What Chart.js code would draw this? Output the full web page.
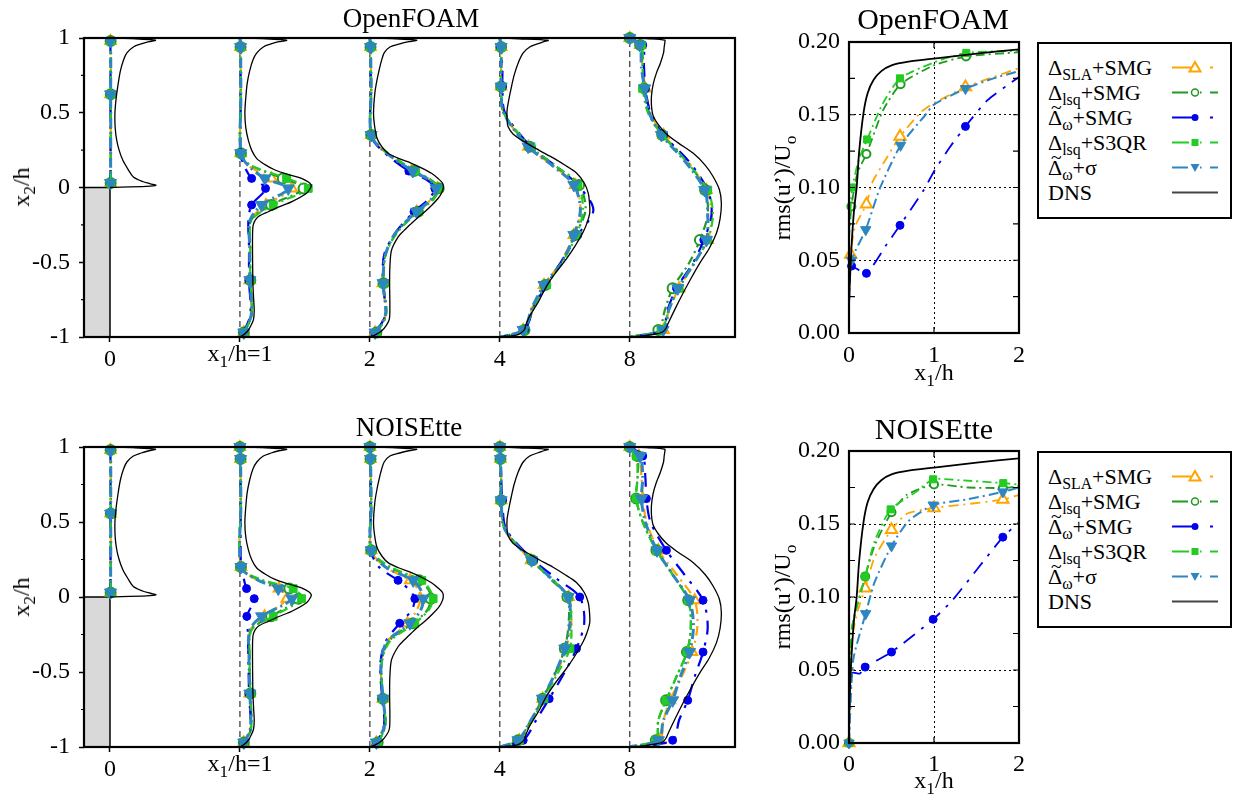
<!DOCTYPE html>
<html>
<head>
<meta charset="utf-8">
<script src="https://cdn.jsdelivr.net/npm/chart.js@4.4.1/dist/chart.umd.min.js"></script>
<style>
  body { margin: 0; background: #fff; width: 1239px; height: 803px; position: relative; overflow: hidden;
         font-family: 'Liberation Serif', 'Times New Roman', serif; color: #000; }
  canvas { position: absolute; }
  .t { position: absolute; transform: translate(-50%, -50%); white-space: nowrap; line-height: 1; font-size: 24px; }
  .rot { transform: translate(-50%, -50%) rotate(-90deg); }
  sub { font-size: 0.72em; vertical-align: -0.32em; line-height: 0; }
  .legend { position: absolute; left: 1037px; width: 195px; height: 177px; border: 2px solid #000;
            box-sizing: border-box; background: #fff; }
  .row { position: absolute; left: 9px; height: 25px; line-height: 25px; font-size: 22px; white-space: nowrap; }
  .sample { position: absolute; left: 133px; width: 46px; height: 25px; }
  .tl { position: relative; display: inline-block; }
  .tl b { position: absolute; left: 0.15em; top: -0.5em; font-weight: normal; font-size: 0.9em; }
</style>
</head>
<body>
<canvas id="foamProf" width="760" height="400" style="left:0;top:0"></canvas>
<canvas id="foamRms" width="479" height="400" style="left:760px;top:0"></canvas>
<canvas id="noiseProf" width="760" height="403" style="left:0;top:400px"></canvas>
<canvas id="noiseRms" width="479" height="403" style="left:760px;top:400px"></canvas>

<div class="t" style="left:411px;top:18px;font-size:27px">OpenFOAM</div>
<div class="t" style="left:409px;top:427px;font-size:27px">NOISEtte</div>
<div class="t" style="left:933px;top:19px;font-size:30px">OpenFOAM</div>
<div class="t" style="left:934px;top:429px;font-size:30px">NOISEtte</div>
<div class="t rot" style="left:21px;top:187px">x<sub>2</sub>/h</div>
<div class="t rot" style="left:21px;top:597px">x<sub>2</sub>/h</div>
<div class="t rot" style="left:782px;top:188px">rms(u’)/U<sub>o</sub></div>
<div class="t rot" style="left:782px;top:597px">rms(u’)/U<sub>o</sub></div>
<div class="t" style="left:240px;top:353px">x<sub>1</sub>/h=1</div>
<div class="t" style="left:240px;top:763px">x<sub>1</sub>/h=1</div>
<div class="t" style="left:934px;top:372px">x<sub>1</sub>/h</div>
<div class="t" style="left:934px;top:780px">x<sub>1</sub>/h</div>
<div class="legend" id="legTop" style="top:42px"></div>
<div class="legend" id="legBot" style="top:451px"></div>

<script>
// stations of the profile plots (x1/h = 0, 1, 2, 4, 8 drawn at equal spacing)
const stations = [0, 1, 2, 3, 4];
const stationLabels = ['0', '', '2', '4', '8'];
const profXMin = -0.2, profXMax = 4.81;
const profMinorTicks = [0.75, 0.25, -0.25, -0.75];
const stepX = [-0.2, 0, 0];
const stepY = [0, 0, -1];

// DNS profiles: x2/h levels and rms offsets, one per station
const dnsY = [
  [1, 0.995, 0.985, 0.975, 0.96, 0.94, 0.90, 0.85, 0.78, 0.70, 0.60, 0.50, 0.40, 0.32, 0.25, 0.18, 0.12, 0.07, 0.04, 0.025, 0.015, 0.007, 0],
  [1, 0.995, 0.985, 0.975, 0.96, 0.94, 0.90, 0.853, 0.78, 0.697, 0.6, 0.496, 0.40, 0.318, 0.25, 0.195, 0.155, 0.117, 0.085, 0.061, 0.035, 0.017, 0, -0.039, -0.095, -0.13, -0.162, -0.19, -0.206, -0.235, -0.262, -0.32, -0.43, -0.53, -0.64, -0.74, -0.82, -0.88, -0.92, -0.96, -0.987, -1],
  [1, 0.995, 0.985, 0.975, 0.96, 0.94, 0.90, 0.85, 0.807, 0.72, 0.63, 0.50, 0.42, 0.33, 0.27, 0.229, 0.195, 0.162, 0.13, 0.095, 0.06, 0.028, -0.006, -0.04, -0.072, -0.115, -0.162, -0.2, -0.24, -0.29, -0.33, -0.418, -0.53, -0.65, -0.80, -0.88, -0.92, -0.96, -0.987, -1],
  [1, 0.995, 0.985, 0.975, 0.96, 0.94, 0.90, 0.83, 0.75, 0.675, 0.60, 0.518, 0.45, 0.406, 0.36, 0.31, 0.25, 0.198, 0.15, 0.097, 0.03, -0.036, -0.10, -0.17, -0.24, -0.30, -0.39, -0.48, -0.57, -0.66, -0.76, -0.86, -0.92, -0.95, -0.975, -0.987, -0.995, -1],
  [1, 0.995, 0.985, 0.97, 0.94, 0.90, 0.83, 0.765, 0.69, 0.61, 0.54, 0.48, 0.42, 0.36, 0.30, 0.23, 0.15, 0.075, -0.015, -0.105, -0.21, -0.306, -0.41, -0.507, -0.61, -0.707, -0.81, -0.91, -0.94, -0.965, -0.98, -0.995, -1]
];
const dnsU = [
  [0, 0.2, 0.35, 0.30, 0.24, 0.18, 0.13, 0.103, 0.08, 0.064, 0.048, 0.038, 0.04, 0.051, 0.07, 0.10, 0.14, 0.18, 0.25, 0.31, 0.354, 0.28, 0],
  [0, 0.2, 0.359, 0.30, 0.24, 0.18, 0.13, 0.10, 0.075, 0.056, 0.045, 0.038, 0.045, 0.064, 0.09, 0.128, 0.19, 0.27, 0.38, 0.474, 0.53, 0.548, 0.545, 0.513, 0.40, 0.30, 0.218, 0.15, 0.128, 0.108, 0.10, 0.097, 0.097, 0.098, 0.10, 0.105, 0.11, 0.105, 0.087, 0.06, 0.026, 0],
  [0, 0.2, 0.36, 0.30, 0.23, 0.154, 0.11, 0.09, 0.077, 0.055, 0.038, 0.028, 0.035, 0.055, 0.095, 0.14, 0.22, 0.32, 0.40, 0.474, 0.525, 0.56, 0.564, 0.55, 0.526, 0.48, 0.423, 0.37, 0.32, 0.26, 0.218, 0.167, 0.154, 0.152, 0.154, 0.15, 0.128, 0.09, 0.038, 0],
  [0, 0.15, 0.372, 0.34, 0.29, 0.23, 0.18, 0.14, 0.11, 0.09, 0.072, 0.056, 0.056, 0.064, 0.10, 0.18, 0.30, 0.41, 0.50, 0.59, 0.65, 0.68, 0.69, 0.692, 0.67, 0.64, 0.58, 0.51, 0.43, 0.36, 0.30, 0.23, 0.20, 0.19, 0.16, 0.128, 0.06, 0],
  [0, 0.15, 0.27, 0.27, 0.265, 0.26, 0.235, 0.205, 0.18, 0.167, 0.168, 0.18, 0.22, 0.28, 0.37, 0.487, 0.58, 0.64, 0.69, 0.705, 0.695, 0.667, 0.61, 0.538, 0.47, 0.41, 0.35, 0.295, 0.28, 0.256, 0.2, 0.077, 0]
];

// OpenFOAM LES profiles: x2/h levels, marker indices, rms offsets per model
const foamLevels = [
  [1, 0.98, 0.8, 0.623, 0.4, 0.2, 0.03, 0],
  [1, 0.94, 0.6, 0.229, 0.15, 0.061, -0.006, -0.117, -0.22, -0.4, -0.62, -0.85, -0.97, -1],
  [1, 0.94, 0.65, 0.351, 0.25, 0.11, 0.05, -0.005, -0.08, -0.162, -0.3, -0.45, -0.64, -0.85, -0.97, -1],
  [1, 0.94, 0.8, 0.675, 0.5, 0.273, 0.15, 0.017, -0.15, -0.318, -0.5, -0.652, -0.8, -0.953, -1],
  [1, 0.953, 0.8, 0.663, 0.5, 0.351, 0.18, -0.017, -0.18, -0.351, -0.5, -0.674, -0.82, -0.953, -1]
];
const foamMarks = [[1, 3, 6], [1, 3, 5, 6, 7, 10, 12], [1, 3, 5, 7, 9, 12, 14], [1, 3, 5, 7, 9, 11, 13], [0, 1, 3, 5, 7, 9, 11, 13]];
const foamSLA = [
  [0, 0.004, 0.006, 0.005, 0.006, 0.005, 0.004, 0],
  [0, 0.004, 0.006, 0.006, 0.06, 0.244, 0.40, 0.20, 0.08, 0.075, 0.075, 0.085, 0.03, 0],
  [0, 0.005, 0.01, 0.01, 0.10, 0.32, 0.46, 0.52, 0.47, 0.36, 0.20, 0.12, 0.10, 0.12, 0.04, 0],
  [0, 0.01, 0.01, 0.01, 0.03, 0.22, 0.40, 0.58, 0.62, 0.57, 0.47, 0.34, 0.25, 0.18, 0],
  [0, 0.08, 0.10, 0.12, 0.16, 0.26, 0.44, 0.59, 0.63, 0.60, 0.50, 0.38, 0.30, 0.26, 0]
];
const foamLsq = [
  [0, 0.005, 0.007, 0.006, 0.007, 0.006, 0.005, 0],
  [0, 0.005, 0.007, 0.008, 0.08, 0.33, 0.49, 0.24, 0.085, 0.078, 0.08, 0.09, 0.03, 0],
  [0, 0.005, 0.01, 0.01, 0.11, 0.34, 0.47, 0.53, 0.48, 0.37, 0.21, 0.12, 0.105, 0.125, 0.05, 0],
  [0, 0.01, 0.01, 0.01, 0.03, 0.23, 0.42, 0.61, 0.66, 0.58, 0.47, 0.35, 0.26, 0.19, 0],
  [0, 0.08, 0.10, 0.11, 0.15, 0.25, 0.44, 0.58, 0.60, 0.54, 0.46, 0.33, 0.27, 0.22, 0]
];
const foamOmg = [
  [0, 0.003, 0.004, 0.004, 0.004, 0.004, 0.003, 0],
  [0, 0.004, 0.006, 0.006, 0.03, 0.09, 0.197, 0.09, 0.065, 0.07, 0.07, 0.08, 0.025, 0],
  [0, 0.004, 0.008, 0.008, 0.09, 0.30, 0.44, 0.50, 0.45, 0.34, 0.20, 0.11, 0.10, 0.12, 0.04, 0],
  [0, 0.005, 0.02, 0.02, 0.04, 0.24, 0.42, 0.60, 0.72, 0.60, 0.47, 0.36, 0.26, 0.19, 0],
  [0, 0.10, 0.11, 0.12, 0.16, 0.26, 0.45, 0.60, 0.63, 0.57, 0.49, 0.36, 0.29, 0.25, 0]
];
const foamS3qr = [
  [0, 0.005, 0.007, 0.006, 0.007, 0.006, 0.005, 0],
  [0, 0.005, 0.007, 0.008, 0.08, 0.359, 0.526, 0.256, 0.09, 0.08, 0.08, 0.09, 0.03, 0],
  [0, 0.005, 0.01, 0.01, 0.11, 0.35, 0.47, 0.53, 0.49, 0.37, 0.21, 0.12, 0.10, 0.125, 0.05, 0],
  [0, 0.01, 0.01, 0.01, 0.03, 0.24, 0.42, 0.60, 0.64, 0.59, 0.48, 0.36, 0.26, 0.18, 0],
  [0, 0.09, 0.10, 0.10, 0.14, 0.25, 0.43, 0.60, 0.64, 0.60, 0.50, 0.38, 0.30, 0.24, 0]
];
const foamSig = [
  [0, 0.004, 0.006, 0.005, 0.006, 0.005, 0.004, 0],
  [0, 0.005, 0.007, 0.006, 0.06, 0.192, 0.372, 0.167, 0.077, 0.075, 0.077, 0.087, 0.03, 0],
  [0, 0.005, 0.01, 0.01, 0.10, 0.33, 0.46, 0.51, 0.47, 0.36, 0.20, 0.12, 0.102, 0.12, 0.04, 0],
  [0, 0.01, 0.01, 0.01, 0.03, 0.218, 0.40, 0.57, 0.62, 0.57, 0.48, 0.34, 0.25, 0.18, 0],
  [0, 0.077, 0.09, 0.115, 0.15, 0.244, 0.42, 0.577, 0.60, 0.59, 0.50, 0.37, 0.30, 0.256, 0]
];

// NOISEtte LES profiles
const noiseLevels = [
  [1, 0.98, 0.8, 0.556, 0.35, 0.2, 0.03, 0],
  [1, 0.92, 0.6, 0.2, 0.12, 0.056, -0.011, -0.129, -0.22, -0.4, -0.644, -0.88, -0.97, -1],
  [1, 0.92, 0.6, 0.311, 0.2, 0.111, 0.05, -0.011, -0.09, -0.175, -0.3, -0.45, -0.678, -0.85, -0.97, -1],
  [1, 0.92, 0.8, 0.645, 0.45, 0.245, 0.12, 0.0, -0.17, -0.344, -0.5, -0.678, -0.82, -0.955, -1],
  [1, 0.94, 0.8, 0.656, 0.5, 0.311, 0.15, -0.022, -0.2, -0.367, -0.53, -0.689, -0.82, -0.955, -1]
];
const noiseMarks = [[1, 3, 6], [0, 1, 3, 5, 6, 7, 10, 12], [0, 1, 3, 5, 7, 9, 12, 14], [0, 1, 3, 5, 7, 9, 11, 13], [0, 1, 3, 5, 7, 9, 11, 13]];
const noiseSLA = [
  [0, 0.004, 0.006, 0.005, 0.006, 0.005, 0.004, 0],
  [0, 0.004, 0.006, 0.008, 0.12, 0.30, 0.36, 0.19, 0.08, 0.07, 0.075, 0.08, 0.03, 0],
  [0, 0.005, 0.01, 0.01, 0.12, 0.31, 0.37, 0.39, 0.36, 0.29, 0.13, 0.085, 0.10, 0.11, 0.05, 0],
  [0, 0.005, 0.01, 0.01, 0.04, 0.24, 0.40, 0.53, 0.55, 0.51, 0.44, 0.33, 0.25, 0.15, 0],
  [0, 0.07, 0.09, 0.10, 0.13, 0.22, 0.36, 0.50, 0.52, 0.48, 0.40, 0.31, 0.26, 0.23, 0]
];
const noiseLsq = [
  [0, 0.005, 0.007, 0.006, 0.007, 0.006, 0.005, 0],
  [0, 0.005, 0.007, 0.008, 0.14, 0.38, 0.45, 0.24, 0.085, 0.075, 0.08, 0.085, 0.03, 0],
  [0, 0.005, 0.01, 0.01, 0.15, 0.38, 0.45, 0.47, 0.44, 0.33, 0.14, 0.09, 0.10, 0.12, 0.06, 0],
  [0, 0.005, 0.01, 0.01, 0.04, 0.25, 0.39, 0.52, 0.53, 0.50, 0.43, 0.33, 0.24, 0.14, 0],
  [0, 0.06, 0.06, 0.05, 0.10, 0.205, 0.33, 0.45, 0.47, 0.44, 0.36, 0.28, 0.22, 0.2, 0]
];
const noiseOmg = [
  [0, 0.003, 0.004, 0.004, 0.004, 0.004, 0.003, 0],
  [0, 0.004, 0.006, 0.008, 0.03, 0.051, 0.11, 0.053, 0.06, 0.065, 0.07, 0.08, 0.025, 0],
  [0, 0.004, 0.008, 0.008, 0.07, 0.217, 0.30, 0.346, 0.32, 0.23, 0.12, 0.08, 0.095, 0.11, 0.05, 0],
  [0, 0.005, 0.01, 0.02, 0.05, 0.26, 0.44, 0.615, 0.65, 0.59, 0.50, 0.38, 0.28, 0.18, 0],
  [0, 0.10, 0.12, 0.128, 0.16, 0.282, 0.42, 0.564, 0.60, 0.564, 0.50, 0.446, 0.38, 0.33, 0]
];
const noiseS3qr = [
  [0, 0.005, 0.007, 0.006, 0.007, 0.006, 0.005, 0],
  [0, 0.005, 0.007, 0.008, 0.15, 0.41, 0.474, 0.256, 0.09, 0.075, 0.08, 0.085, 0.03, 0],
  [0, 0.005, 0.01, 0.01, 0.16, 0.40, 0.46, 0.487, 0.45, 0.346, 0.15, 0.09, 0.10, 0.12, 0.06, 0],
  [0, 0.005, 0.01, 0.01, 0.04, 0.25, 0.40, 0.53, 0.55, 0.54, 0.45, 0.34, 0.25, 0.15, 0],
  [0, 0.05, 0.06, 0.05, 0.10, 0.205, 0.33, 0.45, 0.47, 0.44, 0.36, 0.28, 0.22, 0.2, 0]
];
const noiseSig = [
  [0, 0.004, 0.006, 0.005, 0.006, 0.005, 0.004, 0],
  [0, 0.005, 0.007, 0.008, 0.12, 0.295, 0.40, 0.167, 0.075, 0.07, 0.077, 0.08, 0.03, 0],
  [0, 0.005, 0.01, 0.01, 0.12, 0.333, 0.39, 0.41, 0.39, 0.308, 0.13, 0.085, 0.102, 0.115, 0.05, 0],
  [0, 0.005, 0.01, 0.01, 0.04, 0.244, 0.40, 0.526, 0.54, 0.50, 0.43, 0.328, 0.24, 0.14, 0],
  [0, 0.08, 0.10, 0.09, 0.12, 0.21, 0.33, 0.46, 0.49, 0.46, 0.39, 0.33, 0.26, 0.22, 0]
];

// rms(u')/Uo along x1/h, [x1/h, value] pairs
const dnsRms = [[0, 0.02], [0.01, 0.035], [0.03, 0.06], [0.06, 0.085], [0.09, 0.10], [0.12, 0.125], [0.17, 0.151], [0.22, 0.165], [0.29, 0.174], [0.38, 0.18], [0.5, 0.184], [0.7, 0.1865], [1.0, 0.1886], [1.5, 0.192], [2.0, 0.195]];
const foamRmsSLA = [[0, 0.03], [0.02, 0.054], [0.07, 0.073], [0.205, 0.0885], [0.27, 0.103], [0.45, 0.121], [0.6, 0.135], [0.85, 0.152], [1.0, 0.158], [1.37, 0.169], [1.7, 0.176], [2.0, 0.182]];
const foamRmsLsq = [[0, 0.065], [0.028, 0.087], [0.1, 0.110], [0.205, 0.123], [0.4, 0.153], [0.607, 0.171], [1.0, 0.184], [1.377, 0.190], [2.0, 0.193]];
const foamRmsOmg = [[0, 0.02], [0.01, 0.04], [0.03, 0.046], [0.205, 0.041], [0.44, 0.0606], [0.6, 0.074], [0.876, 0.098], [1.01, 0.112], [1.19, 0.128], [1.37, 0.142], [1.63, 0.160], [2.0, 0.176]];
const foamRmsS3qr = [[0, 0.07], [0.04, 0.100], [0.12, 0.12], [0.213, 0.133], [0.4, 0.158], [0.6, 0.175], [1.0, 0.186], [1.38, 0.1925], [2.0, 0.194]];
const foamRmsSig = [[0, 0.02], [0.03, 0.05], [0.197, 0.071], [0.363, 0.0994], [0.607, 0.129], [0.9, 0.150], [1.0, 0.157], [1.37, 0.168], [1.7, 0.175], [2.0, 0.180]];
const foamRmsMarks = [[1, 3, 6, 9], [1, 3, 5, 7], [2, 3, 5, 9], [1, 3, 5, 7], [1, 2, 4, 7]];
const noiseRmsSLA = [[0, 0], [0.03, 0.07], [0.1, 0.09], [0.19, 0.106], [0.3, 0.127], [0.5, 0.146], [0.68, 0.157], [1.0, 0.161], [1.3, 0.163], [1.81, 0.1667], [2.0, 0.170]];
const noiseRmsLsq = [[0, 0], [0.03, 0.077], [0.19, 0.114], [0.3, 0.135], [0.5, 0.158], [0.68, 0.170], [1.0, 0.177], [1.4, 0.175], [1.81, 0.1747], [2.0, 0.176]];
const noiseRmsOmg = [[0, 0], [0.01, 0.03], [0.04, 0.048], [0.126, 0.0475], [0.19, 0.052], [0.5, 0.0623], [0.99, 0.0847], [1.22, 0.098], [1.81, 0.141], [2.0, 0.151]];
const noiseRmsS3qr = [[0, 0], [0.03, 0.077], [0.19, 0.114], [0.3, 0.138], [0.49, 0.160], [0.79, 0.172], [0.99, 0.1806], [1.3, 0.180], [1.815, 0.178], [2.0, 0.177]];
const noiseRmsSig = [[0, 0], [0.05, 0.057], [0.196, 0.0886], [0.3, 0.11], [0.5, 0.135], [0.7, 0.152], [0.99, 0.163], [1.4, 0.167], [1.81, 0.172], [2.0, 0.175]];
const noiseRmsMarks = [[0, 3, 5, 7, 9], [0, 2, 4, 6, 8], [0, 4, 5, 6, 8], [0, 2, 4, 6, 8], [0, 2, 4, 6, 8]];
const rmsMinorTicks = [0.025, 0.05, 0.075, 0.1, 0.125, 0.15, 0.175];

const legendLabels = [
  'Δ<sub>SLA</sub>+SMG',
  'Δ<sub>lsq</sub>+SMG',
  '<span class="tl">Δ<b>~</b></span><sub>ω</sub>+SMG',
  'Δ<sub>lsq</sub>+S3QR',
  '<span class="tl">Δ<b>~</b></span><sub>ω</sub>+σ',
  'DNS'
];

// line and marker styles, same order as the model arrays
const styles = [
  { color: '#FFA500', dash: [10, 5, 2, 5], shape: 'triangle', rot: 0, bg: '#fff', bw: 2, rL: 6, rR: 6.5, lw: 2.2, order: 5, sample: '19 19 3 99' },
  { color: '#229922', dash: [9, 4, 2, 4], shape: 'circle', rot: 0, bg: '#fff', bw: 2, rL: 5, rR: 4, lw: 2.2, order: 4, sample: '16 12 1.5 8.5 8 99' },
  { color: '#0000EE', dash: [14, 8, 3, 8], shape: 'circle', rot: 0, bg: '#0000EE', bw: 1, rL: 4, rR: 4, lw: 2.2, order: 3, sample: '21 17 3 99' },
  { color: '#22CC22', dash: [9, 4, 2, 4], shape: 'rect', rot: 0, bg: '#22CC22', bw: 1, rL: 5.5, rR: 5, lw: 2.2, order: 2, sample: '17 11 1.5 8.5 8 99' },
  { color: '#2E86C1', dash: [10, 4, 2, 4], shape: 'triangle', rot: 180, bg: '#2E86C1', bw: 1, rL: 7, rR: 6, lw: 3, order: 1, sample: '16 12 1.5 8.5 8 99' }
];

const serif = "'Liberation Serif', 'Times New Roman', serif";
Chart.defaults.font.family = serif;
Chart.defaults.font.size = 24;
Chart.defaults.color = '#000';

// box around the plot area, inward ticks for the rms plots, short minor ticks for the profiles
const frame = {
  id: 'frame',
  afterDatasetsDraw(chart, args, opts) {
    const { ctx, chartArea: a, scales } = chart;
    ctx.save();
    ctx.strokeStyle = '#000';
    ctx.lineWidth = 1.2;
    ctx.beginPath();
    if (opts.inTicks) {
      opts.yTicks.forEach(v => {
        const y = scales.y.getPixelForValue(v);
        ctx.moveTo(a.left, y); ctx.lineTo(a.left + 6, y);
        ctx.moveTo(a.right, y); ctx.lineTo(a.right - 6, y);
      });
      opts.xTicks.forEach(v => {
        const x = scales.x.getPixelForValue(v);
        ctx.moveTo(x, a.bottom); ctx.lineTo(x, a.bottom - 6);
        ctx.moveTo(x, a.top); ctx.lineTo(x, a.top + 6);
      });
    }
    (opts.minorY || []).forEach(v => {
      const y = scales.y.getPixelForValue(v);
      ctx.moveTo(a.left, y); ctx.lineTo(a.left - 3, y);
    });
    ctx.stroke();
    ctx.lineWidth = 2.2;
    ctx.strokeRect(a.left, a.top, a.right - a.left, a.bottom - a.top);
    ctx.restore();
  }
};

const tickFont = { family: serif, size: 24 };

function profileChart(id, levels, marks, models, box) {
  const datasets = [];
  styles.forEach((st, k) => {
    levels.forEach((lev, s) => {
      datasets.push({
        data: lev.map((y, i) => ({ x: stations[s] + models[k][s][i], y })),
        showLine: true, borderColor: st.color, borderWidth: st.lw, borderDash: st.dash, tension: 0.3,
        pointStyle: st.shape, pointRotation: st.rot, pointBackgroundColor: st.bg,
        pointBorderColor: st.color, pointBorderWidth: st.bw,
        pointRadius: lev.map((_, i) => marks[s].includes(i) ? st.rL : 0),
        order: st.order, clip: 8
      });
    });
  });
  stations.forEach(s => {
    datasets.push({
      data: dnsY[s].map((y, i) => ({ x: stations[s] + dnsU[s][i], y })),
      showLine: true, borderColor: '#000', borderWidth: 1.3, tension: 0.3, pointRadius: 0, order: 0
    });
    if (s > 0) {
      datasets.push({
        data: [{ x: s, y: -1 }, { x: s, y: 1 }],
        showLine: true, borderColor: '#333', borderWidth: 1.2, borderDash: [6, 4], pointRadius: 0, order: 8
      });
    }
  });
  datasets.push({
    data: stepX.map((x, i) => ({ x, y: stepY[i] })),
    showLine: true, borderColor: '#000', borderWidth: 1.5, pointRadius: 0,
    fill: 'start', backgroundColor: '#d9d9d9', order: 9
  });

  return new Chart(document.getElementById(id), {
    type: 'scatter',
    data: { datasets },
    plugins: [frame],
    options: {
      responsive: false, animation: false, devicePixelRatio: 1, events: [],
      layout: { padding: { left: 0, right: 25, top: box.top, bottom: 0 } },
      plugins: { legend: { display: false }, tooltip: { enabled: false }, frame: { inTicks: false, minorY: profMinorTicks } },
      scales: {
        x: {
          type: 'linear', min: profXMin, max: profXMax,
          afterBuildTicks: sc => { sc.ticks = stations.map(v => ({ value: v })); },
          afterFit: sc => { sc.height = box.xh; },
          ticks: { autoSkip: false, maxRotation: 0, padding: 3, font: tickFont, callback: (v, i) => stationLabels[i] },
          grid: { drawOnChartArea: false, drawTicks: true, tickLength: 5, tickColor: '#000', tickWidth: 1.5 },
          border: { display: false }
        },
        y: {
          type: 'linear', min: -1, max: 1,
          afterFit: sc => { sc.width = 84; },
          ticks: { stepSize: 0.5, padding: 9, font: tickFont, callback: v => String(v) },
          grid: { drawOnChartArea: false, drawTicks: true, tickLength: 5, tickColor: '#000', tickWidth: 1.5 },
          border: { display: false }
        }
      }
    }
  });
}

function rmsChart(id, models, marks, box) {
  const datasets = styles.map((st, k) => ({
    data: models[k].map(p => ({ x: p[0], y: p[1] })),
    showLine: true, borderColor: st.color, borderWidth: st.lw === 3 ? 2 : 1.8, borderDash: st.dash, tension: 0.2,
    pointStyle: st.shape, pointRotation: st.rot, pointBackgroundColor: st.bg,
    pointBorderColor: st.color, pointBorderWidth: st.bw,
    pointRadius: models[k].map((_, i) => marks[k].includes(i) ? st.rR : 0),
    order: st.order, clip: 8
  }));
  datasets.push({
    data: dnsRms.map(p => ({ x: p[0], y: p[1] })),
    showLine: true, borderColor: '#000', borderWidth: 1.8, tension: 0.3, pointRadius: 0, order: 0
  });

  return new Chart(document.getElementById(id), {
    type: 'scatter',
    data: { datasets },
    plugins: [frame],
    options: {
      responsive: false, animation: false, devicePixelRatio: 1, events: [],
      layout: { padding: { left: 0, right: 220, top: box.top, bottom: 0 } },
      plugins: {
        legend: { display: false }, tooltip: { enabled: false },
        frame: { inTicks: true, yTicks: rmsMinorTicks, xTicks: [1] }
      },
      scales: {
        x: {
          type: 'linear', min: 0, max: 2,
          afterFit: sc => { sc.height = box.xh; },
          ticks: { stepSize: 1, padding: box.xpad, maxRotation: 0, font: tickFont, callback: v => String(v) },
          grid: { drawTicks: false, color: '#000', lineWidth: 1 },
          border: { display: false, dash: [2, 3] }
        },
        y: {
          type: 'linear', min: 0, max: 0.2,
          afterFit: sc => { sc.width = 89; },
          ticks: { stepSize: 0.05, padding: 9, font: tickFont, callback: v => v.toFixed(2) },
          grid: { drawTicks: false, color: '#000', lineWidth: 1 },
          border: { display: false, dash: [2, 3] }
        }
      }
    }
  });
}

function buildLegend(id) {
  const box = document.getElementById(id);
  legendLabels.forEach((lab, i) => {
    const row = document.createElement('div');
    row.className = 'row';
    row.style.top = (11 + 25 * i) + 'px';
    row.innerHTML = lab;
    box.appendChild(row);

    const st = styles[i];
    let svg = '<svg class="sample" style="top:' + (11 + 25 * i) + 'px" width="46" height="25">';
    if (!st) {
      svg += '<line x1="0" y1="12.5" x2="46" y2="12.5" stroke="#444" stroke-width="2"/>';
    } else {
      svg += '<line x1="0" y1="12.5" x2="46" y2="12.5" stroke="' + st.color + '" stroke-width="2" stroke-dasharray="' + st.sample + '"/>';
      const c = st.color;
      if (st.shape === 'triangle' && st.rot === 0) {
        svg += '<polygon points="23,7 17.5,16.5 28.5,16.5" fill="#fff" stroke="' + c + '" stroke-width="2"/>';
      } else if (st.shape === 'triangle') {
        svg += '<polygon points="23,17 18.5,9 27.5,9" fill="' + c + '"/>';
      } else if (st.shape === 'rect') {
        svg += '<rect x="19.5" y="9" width="7" height="7" fill="' + c + '"/>';
      } else if (st.bg === '#fff') {
        svg += '<circle cx="23" cy="12.5" r="3.5" fill="#fff" stroke="' + c + '" stroke-width="1.5"/>';
      } else {
        svg += '<circle cx="23" cy="12.5" r="3.5" fill="' + c + '"/>';
      }
    }
    svg += '</svg>';
    box.insertAdjacentHTML('beforeend', svg);
  });
}

function drawAll() {
  profileChart('foamProf', foamLevels, foamMarks, [foamSLA, foamLsq, foamOmg, foamS3qr, foamSig], { top: 38, xh: 63 });
  profileChart('noiseProf', noiseLevels, noiseMarks, [noiseSLA, noiseLsq, noiseOmg, noiseS3qr, noiseSig], { top: 47, xh: 56 });
  rmsChart('foamRms', [foamRmsSLA, foamRmsLsq, foamRmsOmg, foamRmsS3qr, foamRmsSig], foamRmsMarks, { top: 42, xh: 67, xpad: 8 });
  rmsChart('noiseRms', [noiseRmsSLA, noiseRmsLsq, noiseRmsOmg, noiseRmsS3qr, noiseRmsSig], noiseRmsMarks, { top: 51, xh: 60, xpad: 7 });
}

buildLegend('legTop');
buildLegend('legBot');
// make sure the serif face is ready before the canvases draw their tick labels
document.fonts.load("24px 'Liberation Serif'").then(drawAll, drawAll);
</script>
</body>
</html>
